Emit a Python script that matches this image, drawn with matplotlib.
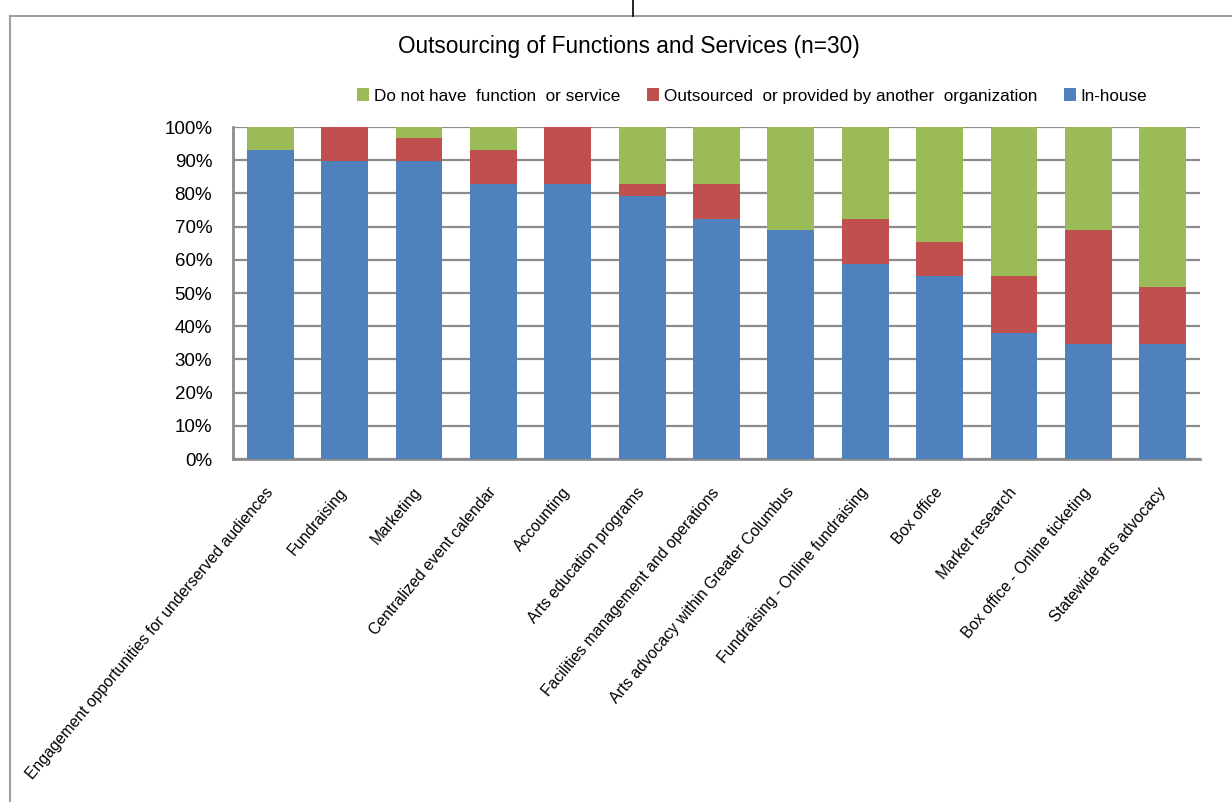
import matplotlib.pyplot as plt
from matplotlib.lines import Line2D
import numpy as np

# share of organisations per function (%), 29 responses per item
functions = ["Engagement opportunities for underserved audiences", "Fundraising", "Marketing",
             "Centralized event calendar", "Accounting", "Arts education programs",
             "Facilities management and operations", "Arts advocacy within Greater Columbus",
             "Fundraising - Online fundraising", "Box office", "Market research",
             "Box office - Online ticketing", "Statewide arts advocacy"]
in_house = [93.1, 89.7, 89.7, 82.8, 82.8, 79.3, 72.4, 69.0, 58.6, 55.2, 37.9, 34.5, 34.5]
outsourced = [0.0, 10.3, 6.9, 10.3, 17.2, 3.4, 10.3, 0.0, 13.8, 10.3, 17.2, 34.5, 17.2]
not_have = [6.9, 0.0, 3.4, 6.9, 0.0, 17.3, 17.3, 31.0, 27.6, 34.5, 44.9, 31.0, 48.3]

plt.rcParams['font.family'] = ['Liberation Sans', 'DejaVu Sans']

BLUE = '#4F81BD'
RED = '#C0504D'
GREEN = '#9BBB59'
GRID = '#8C8C8C'

fig = plt.figure(figsize=(12.32, 8.02), dpi=100)
ax = fig.add_axes([233/1232, 1-459/802, (1200-233)/1232, (459-127)/802])

x = np.arange(len(functions))
w = 0.63
ih = np.array(in_house)
out = np.array(outsourced)
nh = np.array(not_have)
ax.bar(x, ih, w, color=BLUE, label='In-house', zorder=3)
ax.bar(x, out, w, bottom=ih, color=RED, label='Outsourced  or provided by another  organization', zorder=3)
ax.bar(x, nh, w, bottom=ih+out, color=GREEN, label='Do not have  function  or service', zorder=3)

ax.set_xlim(-0.5, len(functions)-0.5)
ax.set_ylim(0, 100)
ax.set_yticks(np.arange(0, 101, 10))
ax.set_yticklabels(['%d%%' % v for v in range(0, 101, 10)], fontsize=13.5)
ax.yaxis.grid(True, color=GRID, linewidth=1.6, zorder=0)
ax.tick_params(axis='y', length=0, pad=15)
ax.tick_params(axis='x', length=0, pad=22)
for s in ['top', 'right']:
    ax.spines[s].set_visible(False)
for s in ['left', 'bottom']:
    ax.spines[s].set_color(GRID)
    ax.spines[s].set_linewidth(2)

ax.set_xticks(x)
ax.set_xticklabels(functions, rotation=50, ha='right', va='center', rotation_mode='anchor', fontsize=11.3)

fig.text(629/1232, 1-47/802, 'Outsourcing of Functions and Services (n=30)', ha='center', va='center', fontsize=16.3)

h, l = ax.get_legend_handles_labels()
fig.legend(h[::-1], l[::-1], loc='center', bbox_to_anchor=(752/1232, 1-96/802), ncol=3, frameon=False,
           fontsize=12.3, handlelength=0.75, handleheight=0.75, handletextpad=0.25, columnspacing=1.55)

# outer chart frame and the stub above it
fig.add_artist(Line2D([10/1232, 10/1232], [0, 1-16/802], color='#A0A0A0', linewidth=1.5))
fig.add_artist(Line2D([10/1232, 1], [1-16/802, 1-16/802], color='#A0A0A0', linewidth=1.5))
fig.add_artist(Line2D([633/1232, 633/1232], [1-16/802, 1], color='black', linewidth=1.2))

fig.savefig('out.png', dpi=100)
